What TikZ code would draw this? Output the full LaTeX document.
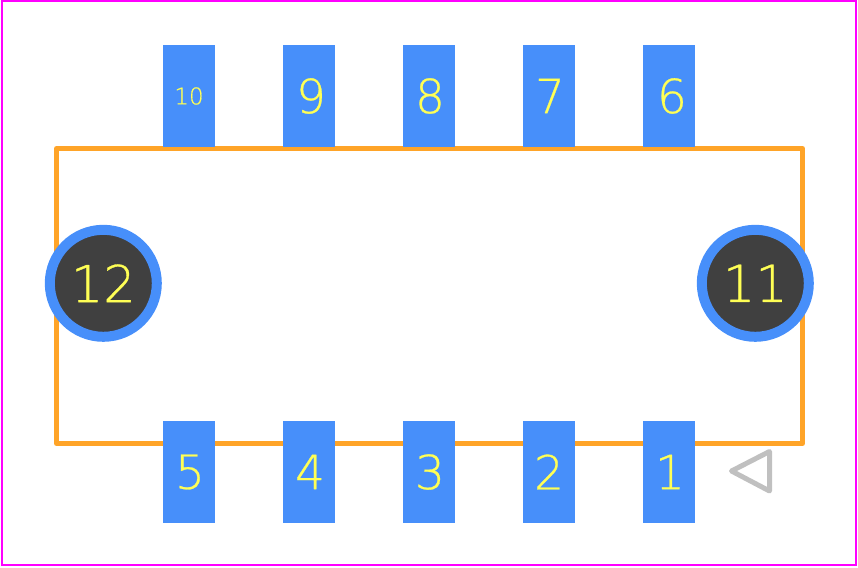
\documentclass[tikz,border=0pt]{standalone}
\usepackage{fontspec}
\newfontfamily\padfont[FakeBold=0.6]{DejaVu Sans ExtraLight}
\usetikzlibrary{positioning}
\definecolor{padblue}{HTML}{478FFA}
\definecolor{outlineorange}{HTML}{FFA428}
\definecolor{holegray}{HTML}{404040}
\definecolor{labelyellow}{HTML}{FFFF55}
\definecolor{boundmagenta}{HTML}{FF00FF}
\definecolor{markgray}{HTML}{C0C0C0}
\tikzset
{
  pad/.style={fill=padblue,minimum width=52pt,minimum height=102pt,inner sep=0pt},
  pad text/.style={inner sep=0pt,text=labelyellow,font=\fontsize{47}{47}\padfont},
  small text/.style={pad text,font=\fontsize{23}{23}\padfont},
  hole/.style={circle,draw=padblue,fill=holegray,line width=10pt,minimum size=107pt,inner sep=0pt,
    text=labelyellow,font=\fontsize{51}{51}\padfont}
}

\begin{document}
\begin{tikzpicture}[x=1pt,y=-1pt,line join=round]
  \useasboundingbox (0,0) rectangle (858,567);
  % board boundary
  \draw[boundmagenta,line width=2pt,line join=miter] (2,1) rectangle (856,565);
  % body outline
  \draw[outlineorange,line width=5pt] (56.5,148.5) rectangle (802.5,443.5);
  % top row
  \node[pad] (pad10) at (189,96) {};
  \node[small text] (label10) at (pad10) {10};
  \foreach \num/\x/\dx in {9/309/2,8/429/1,7/549/1,6/669/3}
  {
    \node[pad] (pad\num) at (\x,96) {};
    \node[pad text] (label\num) at ([xshift=\dx pt]pad\num.center) {\num};
  }
  % bottom row
  \foreach \num/\x/\dx in {5/189/1,4/309/1,3/429/1,2/549/0,1/669/1}
  {
    \node[pad] (pad\num) at (\x,472) {};
    \node[pad text] (label\num) at ([xshift=\dx pt]pad\num.center) {\num};
  }
  % mounting holes
  \node[hole] (hole12) at (103.3,283.3) {12};
  \node[hole] (hole11) at (755.3,283.3) {11};
  % pin one marker
  \draw[markgray,line width=5pt] (769.5,451.5) -- (731.5,471) -- (769.5,491) -- cycle;
\end{tikzpicture}
\end{document}
